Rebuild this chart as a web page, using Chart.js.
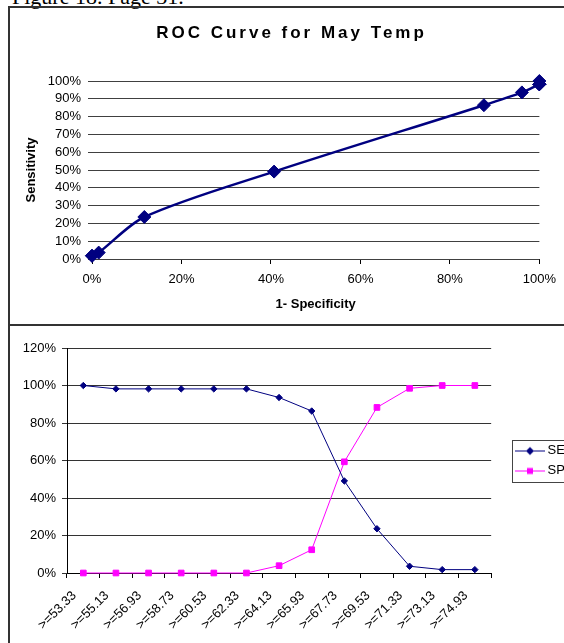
<!DOCTYPE html>
<html>
<head>
<meta charset="utf-8">
<script src="https://cdn.jsdelivr.net/npm/chart.js@4.4.1/dist/chart.umd.min.js"></script>
<style>
  html, body { margin: 0; padding: 0; background: #fff; }
  body { width: 564px; height: 643px; overflow: hidden; position: relative; }
  .caption { position: absolute; left: 12px; top: -14px; font: 22px/1 "Liberation Serif", "Times New Roman", serif; color: #000; white-space: nowrap; }
  .frame-top { position: absolute; left: 8px; top: 6px; width: 700px; height: 316px; border: 2px solid #333; border-right: none; }
  .frame-bottom { position: absolute; left: 8px; top: 324px; width: 700px; height: 400px; border-left: 2px solid #333; border-top: 2px solid #333; }
  canvas { position: absolute; }
  #roc { left: 10px; top: 8px; }
  #sesp { left: 10px; top: 326px; }
</style>
</head>
<body>
<div class="caption">Figure 18. Page 31.</div>
<div class="frame-top"></div>
<div class="frame-bottom"></div>
<canvas id="roc" width="554" height="316"></canvas>
<canvas id="sesp" width="600" height="317"></canvas>
<script>
// values, in percent
const thresholds = [">=53.33", ">=55.13", ">=56.93", ">=58.73", ">=60.53", ">=62.33", ">=64.13",
  ">=65.93", ">=67.73", ">=69.53", ">=71.33", ">=73.13", ">=74.93"];
const sensitivity = [100, 98.2, 98.2, 98.2, 98.2, 98.2, 93.6, 86.4, 49.1, 23.6, 3.6, 1.8, 1.8];
const specificity = [0, 0, 0, 0, 0, 0, 3.9, 12.4, 59.3, 88.3, 98.5, 100, 100];

// ROC points (1 - specificity, sensitivity)
const rocFalsePos = [100, 100, 100, 100, 100, 100, 96.1, 87.6, 40.7, 11.7, 1.5, 0, 0];
const rocTruePos = [100, 98.2, 98.2, 98.2, 98.2, 98.2, 93.6, 86.4, 49.1, 23.6, 3.6, 1.8, 1.8];

const NAVY = "#000080";
const MAGENTA = "#FF00FF";
const FONT = "'Liberation Sans', Arial, sans-serif";

Chart.defaults.font.family = FONT;
Chart.defaults.color = "#000";

const pct = (v) => v + "%";

const rocChart = new Chart(document.getElementById("roc"), {
  type: "line",
  data: {
    datasets: [{
      label: "ROC",
      data: rocFalsePos.map((x, i) => ({ x, y: rocTruePos[i] })),
      borderColor: NAVY,
      backgroundColor: NAVY,
      borderWidth: 2.5,
      tension: 0.3,
      pointStyle: "rectRot",
      pointRadius: 6.5,
      pointBorderWidth: 1,
      clip: false
    }]
  },
  options: {
    responsive: false,
    animation: false,
    layout: { padding: { left: 28, right: 19, top: 0, bottom: 0 } },
    plugins: {
      legend: { display: false },
      tooltip: { enabled: false },
      title: {
        display: true,
        text: "ROC Curve for May Temp",
        color: "#000",
        font: { size: 17, weight: "bold" },
        padding: { top: 15, bottom: 37.6 }
      }
    },
    scales: {
      x: {
        type: "linear",
        min: 0,
        max: 100,
        border: { display: false },
        grid: { drawOnChartArea: false, tickLength: 5, color: "#000" },
        ticks: { stepSize: 20, autoSkip: false, callback: pct, font: { size: 13 }, padding: 8 },
        title: { display: true, text: "1- Specificity", font: { size: 13, weight: "bold" }, padding: { top: 0, bottom: 12 } },
        afterFit: (s) => { s.height = 65; }
      },
      y: {
        min: 0,
        max: 100,
        border: { display: false },
        grid: { color: "#404040", tickLength: 4 },
        ticks: { stepSize: 10, autoSkip: false, callback: pct, font: { size: 13 }, padding: 7 },
        title: { display: true, text: "Sensitivity", font: { size: 13, weight: "bold" }, padding: { top: -14.1, bottom: 0 } },
        afterFit: (s) => { s.width = 54; }
      }
    }
  }
});

// the original title is set with wide letter spacing
const titleBlock = rocChart.titleBlock;
const drawTitle = titleBlock.draw.bind(titleBlock);
titleBlock.draw = (area) => {
  const ctx = titleBlock.ctx;
  ctx.save();
  ctx.letterSpacing = "3px";
  drawTitle(area);
  ctx.restore();
};
rocChart.draw();

// legend sample: line with marker, like the spreadsheet legend
function legendIcon(color, shape) {
  const c = document.createElement("canvas");
  c.width = 30;
  c.height = 12;
  const g = c.getContext("2d");
  g.strokeStyle = color;
  g.fillStyle = color;
  g.lineWidth = 1;
  g.beginPath();
  g.moveTo(0, 6.5);
  g.lineTo(30, 6.5);
  g.stroke();
  g.beginPath();
  if (shape === "diamond") {
    g.moveTo(15, 2.5); g.lineTo(19, 6.5); g.lineTo(15, 10.5); g.lineTo(11, 6.5);
  } else {
    g.rect(12, 3.5, 6, 6);
  }
  g.closePath();
  g.fill();
  return c;
}
const legendIcons = [legendIcon(NAVY, "diamond"), legendIcon(MAGENTA, "square")];

const legendFrame = {
  id: "legendFrame",
  afterLayout(chart) {
    // place the legend a little away from the plot, as in the original
    const lg = chart.legend;
    const dx = 509 - (lg.left + lg.options.labels.padding);
    lg.left += dx;
    lg.right += dx;
  },
  afterDraw(chart) {
    const hb = chart.legend.legendHitBoxes;
    if (!hb || !hb.length) return;
    const last = hb[hb.length - 1];
    const top = hb[0].top - 4.5;
    const bottom = last.top + last.height + 4.5;
    const ctx = chart.ctx;
    ctx.save();
    ctx.strokeStyle = "#444";
    ctx.lineWidth = 1;
    ctx.strokeRect(Math.round(hb[0].left - 7.5) + 0.5, Math.round(top) + 0.5, 200, Math.round(bottom - top));
    ctx.restore();
  }
};

new Chart(document.getElementById("sesp"), {
  type: "line",
  data: {
    labels: thresholds,
    datasets: [
      {
        label: "SE",
        data: sensitivity,
        borderColor: NAVY,
        backgroundColor: NAVY,
        borderWidth: 1,
        pointStyle: "rectRot",
        pointRadius: 3.2,
        pointBorderWidth: 1,
        clip: false
      },
      {
        label: "SP",
        data: specificity,
        borderColor: MAGENTA,
        backgroundColor: MAGENTA,
        borderWidth: 1,
        pointStyle: "rect",
        pointRadius: 4,
        pointBorderWidth: 1,
        clip: false
      }
    ]
  },
  options: {
    responsive: false,
    animation: false,
    layout: { padding: { left: 0, right: 56, top: 22, bottom: 0 } },
    plugins: {
      tooltip: { enabled: false },
      legend: {
        position: "right",
        fullSize: false,
        labels: {
          usePointStyle: true,
          pointStyleWidth: 22,
          padding: 7,
          color: "#000",
          font: { size: 13 },
          generateLabels: (chart) =>
            Chart.defaults.plugins.legend.labels.generateLabels(chart).map((item, i) => ({
              ...item,
              pointStyle: legendIcons[i]
            }))
        }
      }
    },
    scales: {
      x: {
        offset: true,
        border: { display: true, color: "#000" },
        grid: { offset: true, drawOnChartArea: false, tickLength: 5, color: "#000" },
        ticks: { autoSkip: false, maxRotation: 45, minRotation: 45, labelOffset: -9, padding: 10, font: { size: 13 } },
        afterFit: (s) => { s.height = 70; }
      },
      y: {
        min: 0,
        max: 120,
        border: { display: true, color: "#000" },
        grid: { color: "#333", tickLength: 5 },
        ticks: { stepSize: 20, autoSkip: false, callback: pct, font: { size: 13 }, padding: 6 },
        afterFit: (s) => { s.width = 57; }
      }
    }
  },
  plugins: [legendFrame]
});
</script>
</body>
</html>
